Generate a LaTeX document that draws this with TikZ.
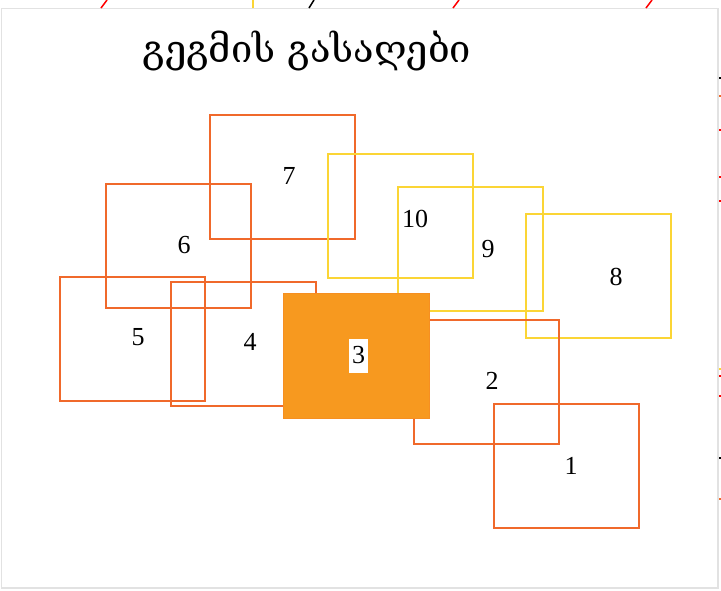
\documentclass[tikz,border=0pt]{standalone}
\usepackage{fontspec}
\setmainfont{Liberation Serif}
\newfontfamily\geofont[Script=Georgian]{DejaVu Serif}
\definecolor{boxorange}{HTML}{F0692B}
\definecolor{boxyellow}{HTML}{FBD535}
\definecolor{fillorange}{HTML}{F7991F}
\definecolor{framegray}{HTML}{E2E2E2}
\begin{document}
\begin{tikzpicture}[x=1pt,y=-1pt,
  obox/.style={draw=boxorange,line width=2pt,minimum width=145pt,minimum height=124pt,inner sep=0pt},
  ybox/.style={draw=boxyellow,line width=2pt,minimum width=145pt,minimum height=124pt,inner sep=0pt},
  fbox/.style={fill=fillorange,draw=fillorange!80!boxorange,line width=0.5pt,minimum width=146pt,minimum height=125pt,inner sep=0pt},
  lbl/.style={font=\fontsize{26}{29}\selectfont,inner sep=0pt},
  stray/.style={line width=1.5pt}]
\useasboundingbox (0,0) rectangle (721,590);
% frame
\draw[framegray,line width=1.5pt] (1.5,8.5) rectangle (718,588);
% stray marks at the edges
\coordinate (s1a) at (101,8); \coordinate (s1b) at (107,0);
\draw[stray,red] (s1a) -- (s1b);
\coordinate (s2a) at (253,8); \coordinate (s2b) at (253,0);
\draw[stray,boxyellow] (s2a) -- (s2b);
\coordinate (s3a) at (309,8); \coordinate (s3b) at (314,0);
\draw[stray,black] (s3a) -- (s3b);
\coordinate (s4a) at (453,8); \coordinate (s4b) at (459,0);
\draw[stray,red] (s4a) -- (s4b);
\coordinate (s5a) at (646,8); \coordinate (s5b) at (652,0);
\draw[stray,red] (s5a) -- (s5b);
\foreach \yy/\cc in {78/black,96/boxorange,130/red,177/red,201/red,369/boxyellow,376/red,396/red,458/black,499/boxorange}{
  \draw[stray,\cc] (719,\yy) -- (721,\yy);
}
% title
\node (title) at (307,51) {\geofont\fontsize{38}{44}\selectfont გეგმის გასაღები};
% boxes
\node[obox] (b7) at (282.5,177) {};
\node[obox] (b6) at (178.5,246) {};
\node[obox] (b5) at (132.5,338.5) {};
\node[obox] (b4) at (243.5,344) {};
\node[ybox] (b10) at (400,216) {};
\node[ybox] (b9) at (470.5,249) {};
\node[ybox] (b8) at (598.5,276) {};
\node[obox] (b2) at (486.5,382) {};
\node[obox] (b1) at (566.5,466) {};
\node[fbox] (b3) at (356,355.5) {};
% labels
\node[lbl] (l1) at (571,466) {1};
\node[lbl] (l2) at (492,381) {2};
\node[lbl,fill=white,minimum width=19pt,minimum height=34pt] (l3) at (358.5,355.5) {3};
\node[lbl] (l4) at (250,342) {4};
\node[lbl] (l5) at (138,337) {5};
\node[lbl] (l6) at (184,245) {6};
\node[lbl] (l7) at (289,176) {7};
\node[lbl] (l8) at (616,277) {8};
\node[lbl] (l9) at (488,249) {9};
\node[lbl] (l10) at (415,219) {10};
\end{tikzpicture}
\end{document}
